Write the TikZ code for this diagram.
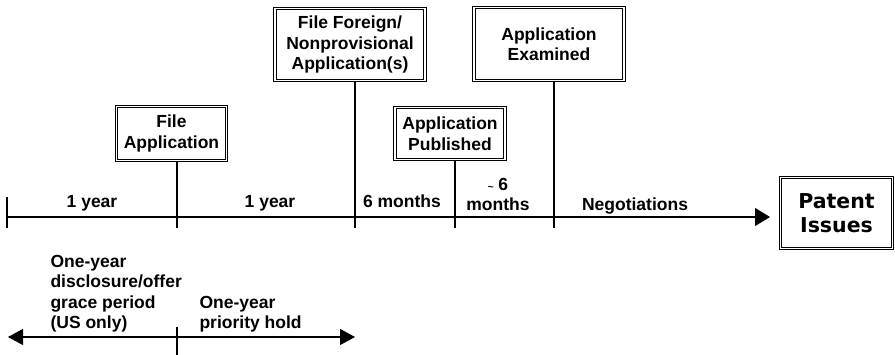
\documentclass[tikz,border=0pt]{standalone}
\usepackage{fontspec}
\setmainfont{Liberation Sans}
\newfontfamily\heavyfont{DejaVu Sans}
\usetikzlibrary{arrows.meta, positioning}
\tikzset{
  every picture/.style={font=\fontsize{17.5}{20.5}\selectfont\bfseries, line width=1.1pt, x=1pt, y=-1pt},
  box/.style={draw, double, double distance=1.8pt, line width=0.8pt, align=center, inner sep=0pt},
  tick/.style={draw, line width=1.1pt},
  arrow/.style={-{Triangle[length=15pt, width=18pt]}, draw, line width=1.1pt},
  span/.style={anchor=base, inner sep=0pt},
  note/.style={align=left, inner sep=0pt, anchor=south west},
}

\begin{document}
\begin{tikzpicture}
  \useasboundingbox (0,0) rectangle (895,355);
  % milestones
  \node[box, minimum width=110, minimum height=54] (fileapp) at (171.5,133.5) {File\\Application};
  \node[box, minimum width=150, minimum height=72] (foreign) at (350,44.5) {File Foreign/\\Nonprovisional\\Application(s)};
  \node[box, minimum width=110, minimum height=52] (published) at (450,133.5) {Application\\Published};
  \node[box, minimum width=150, minimum height=73] (examined) at (549,44) {Application\\Examined};
  \node[box, minimum width=112, minimum height=71,
        font=\heavyfont\fontsize{20.5}{24}\selectfont\bfseries] (patent) at (836.5,213) {Patent\\Issues};

  % time line
  \foreach \n/\x in {0/7,1/177,2/355,3/455,4/554}{
    \coordinate (t\n) at (\x,217);
    \coordinate (b\n) at (\x,228);
  }
  \coordinate (a0) at (7,197);
  \coordinate (tend) at (770,217);
  \draw[arrow] (t0) -- (tend);
  \draw[tick] (a0) -- (b0);
  \draw[tick] (fileapp.south -| t1) -- (b1);
  \draw[tick] (foreign.south -| t2) -- (b2);
  \draw[tick] (published.south -| t3) -- (b3);
  \draw[tick] (examined.south -| t4) -- (b4);

  \node[span] (year1) at (92,208) {1 year};
  \node[span] (year2) at (270,208) {1 year};
  \node[span] (half1) at (402,208) {6 months};
  \node[align=center, inner sep=0pt, anchor=south] (half2) at (498,211.5) {{\fontsize{10}{10}\selectfont\textasciitilde}~6\\months};
  \node[span] (negot) at (635,211) {Negotiations};

  % holds below the line
  \coordinate (h0) at (8,337);
  \coordinate (h1) at (355,337);
  \coordinate (g0) at (177,327);
  \coordinate (g1) at (177,355);
  \draw[arrow, {Triangle[length=15pt, width=16pt]}-{Triangle[length=15pt, width=16pt]}] (h0) -- (h1);
  \draw[tick] (g0) -- (g1);
  \node[note] (grace) at (50,333) {One-year\\disclosure/offer\\grace period\\(US only)};
  \node[note] (prio) at (199,333) {One-year\\priority hold};
\end{tikzpicture}
\end{document}
